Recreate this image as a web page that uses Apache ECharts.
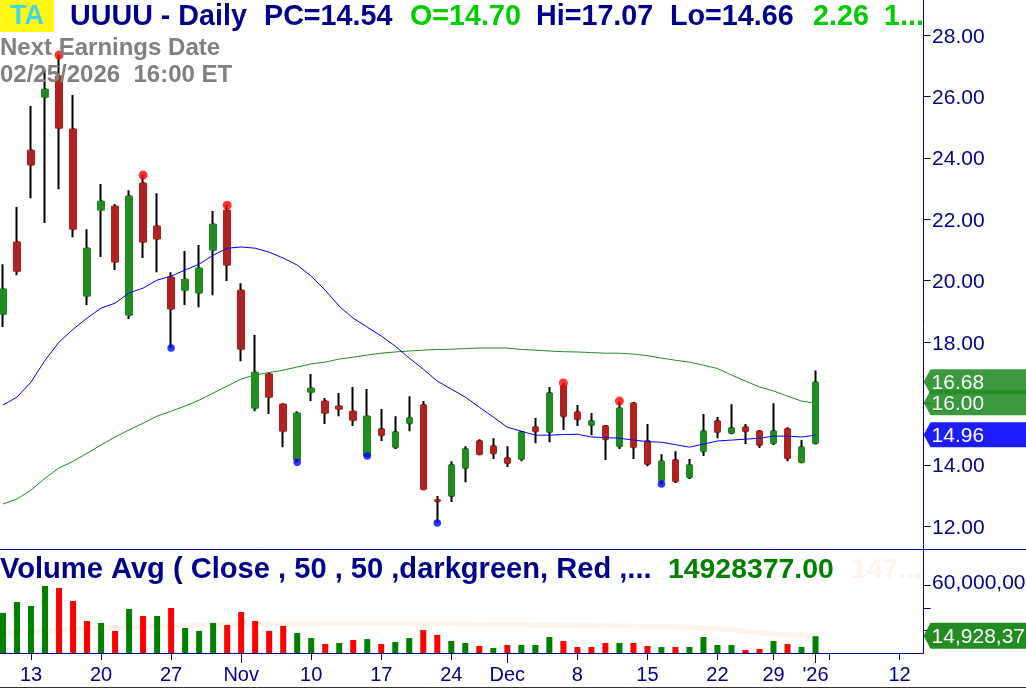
<!DOCTYPE html>
<html>
<head>
<meta charset="utf-8">
<style>html,body{margin:0;padding:0;background:#fff;overflow:hidden}#chart{width:1026px;height:688px}</style>
<script src="https://cdn.jsdelivr.net/npm/echarts@6/dist/echarts.min.js"></script>
</head>
<body>
<div id="chart"></div>
<script>
const dates = ['2025-10-09','2025-10-10','2025-10-13','2025-10-14','2025-10-15','2025-10-16','2025-10-17','2025-10-20','2025-10-21','2025-10-22','2025-10-23','2025-10-24','2025-10-27','2025-10-28','2025-10-29','2025-10-30','2025-10-31','2025-11-03','2025-11-04','2025-11-05','2025-11-06','2025-11-07','2025-11-10','2025-11-11','2025-11-12','2025-11-13','2025-11-14','2025-11-17','2025-11-18','2025-11-19','2025-11-20','2025-11-21','2025-11-24','2025-11-25','2025-11-26','2025-11-28','2025-12-01','2025-12-02','2025-12-03','2025-12-04','2025-12-05','2025-12-08','2025-12-09','2025-12-10','2025-12-11','2025-12-12','2025-12-15','2025-12-16','2025-12-17','2025-12-18','2025-12-19','2025-12-22','2025-12-23','2025-12-24','2025-12-26','2025-12-29','2025-12-30','2025-12-31','2026-01-02','2026-01-05','2026-01-06','2026-01-07','2026-01-08','2026-01-09','2026-01-12','2026-01-13'];
const tickLabels = {'2025-10-13':'13','2025-10-20':'20','2025-10-27':'27','2025-11-03':'Nov','2025-11-10':'10','2025-11-17':'17','2025-11-24':'24','2025-12-01':'Dec','2025-12-08':'8','2025-12-15':'15','2025-12-22':'22','2025-12-29':'29','2026-01-02':"'26",'2026-01-05':'','2026-01-12':'12'};
const monthTicks = ['2025-11-03','2025-12-01','2026-01-02'];
const opens  = [18.90,21.25,24.24,25.97,26.65,24.93,19.49,22.29,22.42,18.87,23.17,21.77,20.11,19.68,19.59,20.99,22.29,19.68,15.84,16.95,15.97,14.15,16.36,16.07,15.91,15.74,14.28,15.16,14.57,15.35,15.94,12.85,12.98,13.89,14.77,14.60,14.21,14.18,15.22,15.06,16.56,15.71,15.29,15.26,14.60,16.00,14.77,13.46,14.15,13.59,14.44,15.42,15.03,15.22,15.09,14.70,15.16,14.08,14.70];
const closes = [19.72,20.30,23.76,26.23,24.96,21.67,21.05,22.58,20.60,22.75,21.25,21.35,19.07,20.04,20.40,21.83,20.50,17.76,17.01,16.20,15.09,15.68,16.49,15.68,15.81,15.45,15.58,14.96,15.06,15.52,13.20,12.81,13.99,14.51,14.34,14.37,14.05,15.06,15.09,16.33,15.58,15.48,15.42,14.83,15.84,14.57,14.02,14.11,13.46,13.99,15.09,15.06,15.19,15.09,14.64,15.09,14.21,14.57,16.68];
const lows   = [18.48,20.17,22.68,21.87,22.97,21.41,19.20,20.76,20.34,18.74,20.73,20.27,17.80,19.20,19.13,19.52,19.98,17.37,15.74,15.65,14.57,14.08,16.07,15.32,15.58,15.26,14.28,14.77,14.51,15.09,13.17,12.10,12.78,13.43,14.31,14.18,13.92,14.11,14.70,14.73,15.13,15.26,14.96,14.15,14.51,14.18,13.95,13.37,13.40,13.53,14.28,14.86,14.99,14.67,14.54,14.64,14.11,14.05,14.66];
const highs  = [20.53,22.39,25.68,26.88,27.34,26.04,21.67,23.14,22.49,22.94,23.43,22.84,20.27,20.96,21.15,22.26,22.45,19.91,18.22,17.01,15.97,15.74,16.95,16.17,16.33,16.53,16.46,15.81,15.58,16.23,16.07,12.98,14.11,14.60,14.83,14.86,14.60,15.09,15.52,16.53,16.66,15.94,15.68,15.29,16.07,16.04,15.32,14.34,14.44,14.18,15.65,15.55,15.97,15.32,15.13,16.00,15.22,14.80,17.07];
const maFast = [15.94,16.20,16.69,17.40,17.99,18.41,18.77,19.10,19.26,19.59,19.75,20.01,20.14,20.34,20.53,20.82,21.05,21.09,21.05,20.92,20.73,20.50,20.14,19.68,19.16,18.77,18.48,18.19,17.86,17.47,17.11,16.72,16.46,16.20,15.87,15.55,15.22,15.09,14.96,14.96,14.98,14.99,14.90,14.88,14.86,14.80,14.75,14.73,14.65,14.57,14.67,14.77,14.80,14.83,14.86,14.93,14.93,14.90,14.96];
const maSlow = [12.72,12.88,13.17,13.56,13.89,14.11,14.37,14.64,14.90,15.13,15.35,15.58,15.74,15.91,16.10,16.33,16.56,16.79,16.92,17.00,17.08,17.18,17.28,17.34,17.44,17.50,17.57,17.63,17.67,17.70,17.73,17.75,17.76,17.78,17.80,17.80,17.80,17.75,17.73,17.70,17.68,17.67,17.65,17.63,17.63,17.60,17.55,17.47,17.40,17.34,17.24,17.13,16.92,16.72,16.53,16.40,16.23,16.07,16.00];
const peakDays = [4,10,16,40,44];
const peakPrices = [27.34,23.43,22.45,16.66,16.07];
const troughDays = [12,21,26,31,47];
const troughPrices = [17.80,14.08,14.28,12.10,13.37];
const volumes = [35.6,45.3,41.8,59.6,57.8,46.2,28.4,26.7,19.6,39.1,32.9,32.9,40.0,22.2,19.6,26.7,24.9,36.4,28.4,19.6,24.0,17.8,13.3,8.0,8.9,11.6,12.4,8.0,9.8,13.3,20.4,16.0,10.7,8.9,6.2,4.4,7.1,7.1,7.1,14.2,10.7,5.3,5.3,8.9,8.9,8.9,6.2,5.3,5.3,5.3,14.2,7.1,7.1,2.7,3.6,10.7,8.0,5.3,14.928377];
const volumeUp = [1,1,1,1,0,0,0,1,0,1,0,1,0,1,1,1,0,0,0,0,0,1,1,0,1,0,1,0,1,1,0,0,1,1,0,1,0,1,1,1,0,0,0,0,1,0,0,1,0,1,1,1,1,0,0,1,0,1,1];
const volumeAvg = [17.5,18.3,19.2,20.0,20.6,21.2,21.7,22.2,22.6,23.0,23.4,23.8,24.1,24.4,24.7,25.0,25.2,25.4,25.5,25.6,25.7,25.8,25.8,25.9,25.9,26.0,26.0,26.0,26.1,26.1,26.2,26.1,26.0,25.8,25.6,25.4,25.2,25.1,24.9,24.8,24.6,24.5,24.4,24.3,24.1,24.0,23.8,23.6,23.3,22.9,22.0,21.3,20.8,19.5,18.0,16.8,16.2,15.8,14.78];
const priceTicks = [12,14,16,18,20,22,24,26,28];
const volumeTicks = [20,40,60];
const volumeLabelTicks = [60];
const priceTags = [[16.68,'16.68','rgba(34,139,34,0.88)'],[16.00,'16.00','rgba(34,139,34,0.88)'],[14.96,'14.96','rgba(0,0,255,0.89)']];
const volumeTags = [[14.928377,'14,928,377','#228B22']];

const NAVY = '#00008B', FONT = '"Liberation Sans", Arial, sans-serif';
const last = volumes.length - 1;
const bodyData = opens.map((o, i) => [o, closes[i], Math.min(o, closes[i]), Math.max(o, closes[i])]);
const wickData = opens.map((o, i) => [o, closes[i], lows[i], highs[i]]);

function tagRenderer(h) {
  return function (params, api) {
    const y = api.coord([last, api.value(0)])[1];
    const x = params.coordSys.x + params.coordSys.width + 3;
    const d = params.dataIndex;
    const src = params.seriesName === 'volumeTag' ? volumeTags[d] : priceTags[d];
    const c = y - 0.5;
    return { type: 'group', children: [
      { type: 'polygon', shape: { points: [[x, c], [x + 7, c - h], [1030, c - h], [1030, c + h], [x + 7, c + h]] }, style: { fill: src[2] } },
      { type: 'text', x: x + 8, y: y + 1, style: { text: src[1], fill: '#fff', font: '21px ' + FONT, verticalAlign: 'middle', textAlign: 'left' } }
    ] };
  };
}
function tickRenderer(params, api) {
  const y = Math.round(api.coord([last, api.value(0)])[1]) + 0.5;
  const x = params.coordSys.x + params.coordSys.width + 3;
  return { type: 'line', shape: { x1: x, y1: y, x2: x + 7, y2: y }, style: { stroke: NAVY, lineWidth: 1 } };
}
function T(text, x, y, fill, size, weight) {
  return { type: 'text', x: x, y: y, z: 100, silent: true, style: { text: text, fill: fill, font: (weight || 'bold') + ' ' + size + 'px ' + FONT, verticalAlign: 'middle', textAlign: 'left' } };
}
function L(x1, y1, x2, y2, c) {
  return { type: 'line', z: 90, silent: true, shape: { x1: x1, y1: y1, x2: x2, y2: y2 }, style: { stroke: c || NAVY, lineWidth: 1 } };
}
const xCommon = {
  type: 'category', data: dates, boundaryGap: true, position: 'bottom',
  axisLine: { show: false }, splitLine: { show: false }
};
const yCommon = { type: 'value', position: 'right', offset: 3, splitLine: { show: false }, axisLine: { show: false }, axisTick: { show: false } };
const labelStyle = { show: true, margin: 8.5, color: NAVY, fontFamily: FONT, fontSize: 21 };
// Label axes use a range nudged by about 2 px so the text sits just below its tick, as in the reference.
const chart = echarts.init(document.getElementById('chart'), null, { renderer: 'canvas' });
chart.setOption({
  animation: false,
  backgroundColor: '#fff',
  grid: [
    { left: -4, width: 924.6, top: 0, height: 548, outerBoundsMode: 'none' },
    { left: -4, width: 924.6, top: 549, height: 104, outerBoundsMode: 'none' }
  ],
  xAxis: [
    Object.assign({}, xCommon, { gridIndex: 0, axisTick: { show: false }, axisLabel: { show: false } }),
    Object.assign({}, xCommon, { gridIndex: 1,
      axisTick: { show: true, alignWithLabel: true, length: 7, lineStyle: { color: NAVY, width: 1 }, interval: (i, v) => v in tickLabels },
      axisLabel: { show: true, margin: 12, color: NAVY, fontFamily: FONT, fontSize: 20, interval: (i, v) => !!tickLabels[v], formatter: v => tickLabels[v] || '', hideOverlap: false } }),
    Object.assign({}, xCommon, { gridIndex: 1, 
      axisTick: { show: true, alignWithLabel: true, length: 12, lineStyle: { color: NAVY, width: 1 }, interval: (i, v) => monthTicks.includes(v) },
      axisLabel: { show: false } })
  ],
  yAxis: [
    Object.assign({}, yCommon, { gridIndex: 0, min: 11.285, max: 29.134, axisLabel: { show: false } }),
    Object.assign({}, yCommon, { gridIndex: 1, min: 0, max: 92.44, axisLabel: { show: false } }),
    Object.assign({}, yCommon, { gridIndex: 0, min: 11.35, max: 29.199,
      axisLabel: Object.assign({}, labelStyle, { customValues: priceTicks, formatter: v => v.toFixed(2) }) }),
    Object.assign({}, yCommon, { gridIndex: 1, min: -1.78, max: 90.66,
      axisLabel: Object.assign({}, labelStyle, { customValues: volumeLabelTicks, formatter: v => (v * 1e6).toLocaleString('en-US') }) })
  ],
  series: [
    { name: 'wick', type: 'candlestick', xAxisIndex: 0, yAxisIndex: 0, z: 2, barWidth: 2, data: wickData,
      itemStyle: { color: '#000', color0: '#000', borderColor: '#000', borderColor0: '#000', borderColorDoji: '#000', borderWidth: 2, borderCap: 'butt', borderJoin: 'miter' } },
    { name: 'body', type: 'candlestick', xAxisIndex: 0, yAxisIndex: 0, z: 3, barWidth: 7, data: bodyData,
      itemStyle: { color: '#228B22', color0: '#B22222', borderColor: '#228B22', borderColor0: '#B22222', borderColorDoji: '#B22222', borderWidth: 1, borderCap: 'butt', borderJoin: 'miter' } },
    { name: 'ma50', type: 'line', xAxisIndex: 0, yAxisIndex: 0, z: 4, data: maSlow, symbol: 'none', lineStyle: { color: '#228B22', width: 1 } },
    { name: 'ma20', type: 'line', xAxisIndex: 0, yAxisIndex: 0, z: 4, data: maFast, symbol: 'none', lineStyle: { color: '#0000FF', width: 1 } },
    { name: 'peak', type: 'scatter', xAxisIndex: 0, yAxisIndex: 0, z: 5, symbolSize: 9, itemStyle: { color: '#FF0000' }, data: peakDays.map((d, i) => [d, peakPrices[i]]) },
    { name: 'trough', type: 'scatter', xAxisIndex: 0, yAxisIndex: 0, z: 5, symbolSize: 7.5, itemStyle: { color: '#0000FF' }, data: troughDays.map((d, i) => [d, troughPrices[i]]) },
    { name: 'priceTick', type: 'custom', xAxisIndex: 0, yAxisIndex: 0, z: 2, clip: false, renderItem: tickRenderer, encode: { y: 0 }, data: priceTicks.map(v => [v]) },
    { name: 'priceTag', type: 'custom', xAxisIndex: 0, yAxisIndex: 0, z: 6, clip: false, renderItem: tagRenderer(12.5), encode: { y: 0 }, data: priceTags.map(t => [t[0]]) },
    { name: 'volumeAvg', type: 'line', xAxisIndex: 1, yAxisIndex: 1, z: 2, data: volumeAvg, symbol: 'none', lineStyle: { color: '#FFF3EC', width: 5 } },
    { name: 'volume', type: 'bar', xAxisIndex: 1, yAxisIndex: 1, z: 3, barWidth: 6, data: volumes,
      itemStyle: { color: p => volumeUp[p.dataIndex] ? '#008000' : '#FF0000' } },
    { name: 'volumeTick', type: 'custom', xAxisIndex: 1, yAxisIndex: 1, z: 2, clip: false, renderItem: tickRenderer, encode: { y: 0 }, data: volumeTicks.map(v => [v]) },
    { name: 'volumeTag', type: 'custom', xAxisIndex: 1, yAxisIndex: 1, z: 6, clip: false, renderItem: tagRenderer(13), encode: { y: 0 }, data: volumeTags.map(t => [t[0]]) }
  ],
  graphic: [
    L(0, 549.5, 1026, 549.5), L(0, 653.5, 923.5, 653.5), L(923.5, 0, 923.5, 653.5), L(0, 687.5, 1026, 687.5, '#333333'),
    { type: 'rect', z: 95, silent: true, shape: { x: 0, y: 0, width: 54, height: 32 }, style: { fill: '#FFF614' } },
    T('TA', 10, 17, '#40D8E8', 27, 'bold'),
    T('UUUU - Daily', 70, 17, NAVY, 28.7),
    T('PC=14.54', 264, 17, NAVY, 28.7),
    T('O=14.70', 410, 17, '#00CC00', 28.7),
    T('Hi=17.07', 536, 17, NAVY, 28.7),
    T('Lo=14.66', 670, 17, NAVY, 28.7),
    T('2.26', 813, 17, '#00CC00', 28.7),
    T('1...', 884, 17, '#00CC00', 28.7),
    T('Next Earnings Date', 0, 48.5, '#808080', 24),
    T('02/25/2026  16:00 ET', 0, 75.5, '#808080', 24),
    T('Volume Avg ( Close , 50 , 50 ,darkgreen, Red ,...', 0, 570, NAVY, 29.1),
    T('14928377.00', 668, 570, '#008000', 28.4),
    T('147...', 851, 570, '#FFF3EC', 28.4)
  ]
});
</script>
</body>
</html>
